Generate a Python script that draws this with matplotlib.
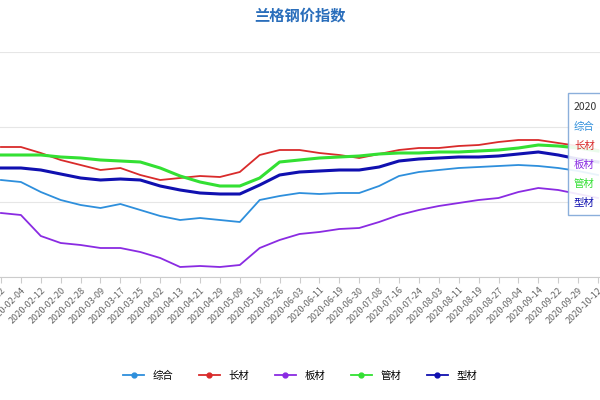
import matplotlib.pyplot as plt
from matplotlib.lines import Line2D

plt.rcParams['font.family'] = ['Noto Sans CJK SC', 'DejaVu Sans']

dates = ["2020-01-22", "2020-02-04", "2020-02-12", "2020-02-20", "2020-02-28", "2020-03-09",
         "2020-03-17", "2020-03-25", "2020-04-02", "2020-04-13", "2020-04-21", "2020-04-29",
         "2020-05-09", "2020-05-18", "2020-05-26", "2020-06-03", "2020-06-11", "2020-06-19",
         "2020-06-30", "2020-07-08", "2020-07-16", "2020-07-24", "2020-08-03", "2020-08-11",
         "2020-08-19", "2020-08-27", "2020-09-04", "2020-09-14", "2020-09-22", "2020-09-29",
         "2020-10-12"]

zonghe = [220, 218, 208, 200, 195, 192, 196, 190, 184, 180, 182, 180, 178, 200, 204, 207,
          206, 207, 207, 214, 224, 228, 230, 232, 233, 234, 235, 234, 232, 229, 225]
changcai = [253, 253, 247, 240, 235, 230, 232, 225, 220, 222, 224, 223, 228, 245, 250, 250,
            247, 245, 242, 246, 250, 252, 252, 254, 255, 258, 260, 260, 257, 254, 250]
bancai = [187, 185, 164, 157, 155, 152, 152, 148, 142, 133, 134, 133, 135, 152, 160, 166,
          168, 171, 172, 178, 185, 190, 194, 197, 200, 202, 208, 212, 210, 206, 202]
guancai = [245, 245, 245, 243, 242, 240, 239, 238, 232, 224, 218, 214, 214, 222, 238, 240,
           242, 243, 244, 246, 247, 247, 248, 248, 249, 250, 252, 255, 254, 252, 249]
xingcai = [232, 232, 230, 226, 222, 220, 221, 220, 214, 210, 207, 206, 206, 215, 225, 228,
           229, 230, 230, 233, 239, 241, 242, 243, 243, 244, 246, 248, 245, 241, 238]

names = ["综合", "长材", "板材", "管材", "型材"]
series = [zonghe, changcai, bancai, guancai, xingcai]
colors = ["#2e8fdc", "#d92b2b", "#8a2be2", "#33e033", "#1010b0"]
widths = [1.3, 1.3, 1.3, 2.2, 2.2]
grid_vals = [123, 198, 273, 348]

fig = plt.figure(figsize=(6, 4), dpi=100)
ax = fig.add_axes([0.0, 0.3075, 1.0, 0.5625])
x = list(range(len(dates)))
for s, c, w in zip(series, colors, widths):
    ax.plot(x, s, color=c, lw=w)
ax.set_xlim(-0.05, 30.1)
ax.set_ylim(123, 348)
ax.set_yticks(grid_vals)
ax.set_yticklabels([])
ax.tick_params(axis='y', length=0)
ax.grid(axis='y', color='#e6e6e6', lw=0.8)
ax.set_xticks(x)
ax.set_xticklabels(dates, rotation=45, ha='right', rotation_mode='anchor', fontsize=6.5, color='#666666')
ax.tick_params(axis='x', length=4, color='#cccccc', pad=2)
for sp in ['top', 'right', 'left']:
    ax.spines[sp].set_visible(False)
ax.spines['bottom'].set_color('#cccccc')

fig.text(0.5, 0.96, "兰格钢价指数", ha='center', va='center', fontsize=11, fontweight='bold', color='#2a6ebb')

handles = [Line2D([0], [0], color=c, lw=1.3, marker='o', markersize=3.5) for c in colors]
fig.legend(handles, names, loc='center', bbox_to_anchor=(0.5, 0.06), ncol=5, frameon=False,
           fontsize=7.5, handlelength=2, columnspacing=2.5)

# tooltip box cut at the right edge
box = plt.Rectangle((568 / 600, 1 - 215 / 400), 40 / 600, 122 / 400, transform=fig.transFigure,
                    facecolor='white', edgecolor='#7fa7d8', lw=1, alpha=0.9)
fig.patches.append(box)
fig.text(574 / 600, 1 - 107 / 400, "2020", fontsize=7.5, color='#333333', va='center')
for i, (n, c) in enumerate(zip(names, colors)):
    fig.text(574 / 600, 1 - (127 + 19 * i) / 400, n, fontsize=7.5, color=c, va='center')

fig.savefig("out.png", dpi=100)
